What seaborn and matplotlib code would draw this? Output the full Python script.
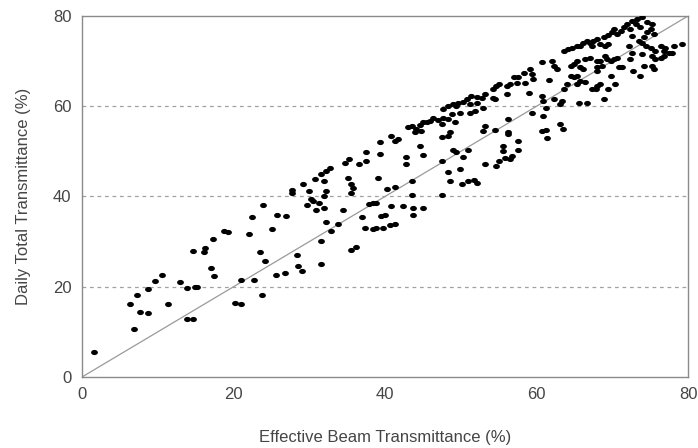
import matplotlib
matplotlib.use("Agg")
import matplotlib.pyplot as plt
import seaborn as sns
import pandas as pd
from matplotlib.ticker import MultipleLocator
from matplotlib.path import Path
import numpy as np

# Effective beam transmittance (%) and daily total transmittance (%)
beam = [
    1.6, 6.9, 6.4, 7.2, 7.7, 8.7, 8.7, 9.6, 10.6, 11.3, 12.9, 13.8, 14.9, 15.2, 13.9, 14.7, 14.7, 20.2, 21.0,
    31.6, 30.8, 29.2, 29.9, 27.7, 27.7, 30.2, 30.5, 29.7, 31.3, 30.9, 23.9, 22.4, 25.7, 26.9, 25.1, 22.1,
    18.8, 19.3, 17.3, 16.2, 16.1, 31.6, 35.5, 36.2, 23.5, 24.1, 28.4, 28.5, 29.1, 31.6, 17.0, 17.4, 25.6,
    26.8, 21.0, 22.7, 23.8, 32.2,
    46.4, 47.0, 45.5, 45.9, 44.6, 45.0, 43.5, 44.1, 44.8, 43.0, 43.9, 47.5, 47.5, 40.8, 41.7, 41.3, 39.3,
    39.3, 37.5, 44.6, 45.0, 37.5, 36.6, 35.3, 34.7, 42.8, 42.8, 47.5, 32.7, 32.2, 39.1, 35.1, 32.0, 35.5,
    35.8, 35.5, 41.3, 40.2, 43.5, 43.5, 47.5, 38.4, 38.8, 37.9, 40.8, 42.4, 43.7, 45.0, 34.4, 32.0, 39.5,
    40.0, 36.9, 43.7, 40.6, 41.3, 37.3, 38.4, 38.8, 39.7, 33.8, 32.9, 32.2, 32.0,
    60.7, 62.0, 62.3, 62.7, 59.2, 59.4, 58.3, 57.6, 57.0, 57.4, 56.5, 56.1, 58.5, 59.6, 54.7, 54.3, 55.0,
    61.6, 56.1, 59.0, 53.2, 52.8, 52.1, 51.4, 54.3, 54.5, 50.8, 50.3, 49.7, 49.0, 48.3, 47.7, 52.1, 51.2,
    53.0, 51.9, 51.2, 49.9, 49.4, 60.7, 60.9, 62.3, 63.4, 63.1, 61.2, 59.4, 60.9, 56.3, 48.8, 48.3, 49.2,
    47.7, 53.2, 53.0, 54.5, 56.3, 56.3, 60.7, 61.2, 61.4, 63.1, 63.5, 48.6, 48.3, 57.6, 55.6, 55.6, 55.8,
    56.7, 56.5, 57.6, 55.0, 54.7, 49.0, 49.4, 50.9, 50.3, 53.2, 48.3, 49.9, 48.6, 51.0, 51.7, 52.1, 50.1,
    73.9, 73.3, 72.6, 73.1, 74.6, 75.3, 72.0, 71.5, 71.1, 70.6, 70.0, 69.5, 70.2, 72.4, 73.7, 75.1, 74.6,
    72.6, 74.2, 75.5, 68.9, 68.0, 67.5, 67.1, 66.7, 66.2, 65.8, 65.3, 64.7, 64.2, 63.6, 67.3, 68.4, 69.1,
    69.5, 72.2, 73.9, 73.5, 74.4, 76.4, 77.0, 78.1, 79.2, 76.8, 75.7, 75.1, 77.5, 76.8, 77.9, 76.4, 75.7,
    75.3, 72.6, 73.9, 72.4, 70.6, 70.2, 69.8, 69.3, 68.4, 68.0, 69.1, 67.1, 66.4, 65.3, 64.9, 65.8, 64.5,
    74.2, 75.5, 75.3, 72.8, 73.7, 71.3, 70.9, 68.0, 68.7, 66.2, 69.8, 68.0, 65.3, 64.9, 64.5, 65.8, 66.4,
    65.3, 68.4, 68.0, 67.8, 67.3, 69.5, 70.4, 68.9, 65.6, 66.7, 64.0, 63.6,
]
total = [
    5.6, 10.7, 16.2, 18.2, 14.4, 14.2, 19.5, 21.2, 22.7, 16.2, 21.0, 19.8, 20.0, 19.9, 12.8, 12.8, 28.0, 16.4, 16.2,
    44.9, 43.8, 42.7, 41.2, 41.4, 40.8, 39.5, 39.0, 38.2, 38.6, 37.0, 38.1, 35.4, 35.8, 35.6, 32.7, 31.6,
    32.3, 32.2, 30.6, 28.6, 27.8, 30.1, 28.2, 28.8, 27.6, 25.8, 27.1, 24.7, 23.4, 25.1, 24.2, 22.4, 22.7,
    23.0, 21.6, 21.6, 18.2, 41.2,
    57.5, 57.0, 56.4, 56.7, 55.8, 56.4, 55.6, 54.9, 54.5, 55.3, 54.2, 56.0, 53.2, 53.4, 52.7, 52.3, 52.1,
    49.5, 49.8, 51.2, 49.3, 47.8, 47.1, 48.2, 47.5, 48.8, 47.1, 47.8, 46.4, 45.6, 44.2, 44.2, 43.4, 42.7,
    41.9, 40.8, 42.1, 41.7, 43.4, 40.4, 40.4, 38.6, 38.6, 38.4, 38.0, 38.0, 37.5, 37.5, 37.1, 37.5, 35.6,
    36.0, 35.5, 36.0, 33.6, 33.8, 33.0, 32.7, 33.0, 33.0, 33.8, 32.3, 34.3, 40.1,
    69.7, 70.1, 69.0, 68.2, 68.2, 67.1, 67.3, 66.4, 66.4, 65.1, 64.9, 64.5, 65.1, 66.0, 64.5, 63.8, 64.9,
    65.8, 62.7, 63.0, 62.7, 61.9, 62.1, 62.3, 61.9, 61.6, 61.6, 61.0, 60.8, 60.4, 60.1, 59.3, 60.8, 60.4,
    59.7, 59.0, 58.6, 58.6, 60.1, 62.3, 61.2, 61.6, 61.2, 60.4, 59.7, 58.6, 57.8, 57.1, 58.2, 57.1, 56.4,
    57.5, 55.6, 54.5, 54.7, 54.3, 53.8, 54.5, 54.7, 53.0, 56.0, 54.9, 54.2, 53.4, 52.3, 51.3, 50.1, 48.6,
    49.0, 48.2, 50.4, 47.8, 46.7, 50.4, 49.8, 50.4, 48.8, 47.3, 45.4, 46.0, 43.4, 43.4, 43.6, 43.0, 42.7,
    79.7, 79.3, 79.0, 78.2, 78.6, 78.2, 78.2, 77.5, 76.7, 76.0, 76.4, 75.8, 77.1, 77.1, 77.5, 77.1, 76.4,
    75.6, 75.3, 76.0, 75.3, 74.9, 74.5, 74.1, 74.5, 74.1, 73.4, 73.4, 73.0, 72.7, 72.3, 73.4, 73.8, 73.4,
    73.8, 73.4, 74.1, 74.5, 73.4, 73.4, 73.0, 73.4, 73.8, 72.3, 72.3, 73.0, 71.9, 71.2, 71.9, 70.8, 70.4,
    71.2, 71.9, 71.6, 70.4, 70.8, 70.4, 70.1, 70.4, 70.1, 70.1, 71.2, 70.8, 70.4, 70.1, 69.3, 68.6, 69.0,
    69.0, 68.2, 69.0, 67.8, 66.7, 68.6, 68.6, 68.6, 69.0, 68.2, 66.7, 67.8, 66.7, 66.4, 66.7, 65.6, 65.3,
    64.9, 64.9, 64.5, 63.8, 63.8, 63.8, 64.9, 61.6, 60.8, 60.8, 64.9, 63.8,
]

x_ticks = [0, 20, 40, 60, 80]
y_ticks = [0, 20, 40, 60, 80]
x_label = "Effective Beam Transmittance (%)"
y_label = "Daily Total Transmittance (%)"

df = pd.DataFrame({"beam": beam, "total": total})

sns.set_style("white")
plt.rcParams["font.family"] = ["Liberation Sans", "DejaVu Sans"]

fig = plt.figure(figsize=(6.98, 4.48), dpi=100)
ax = fig.add_axes([0.1175, 0.1585, 0.9857 - 0.1175, 0.9643 - 0.1585])

axis_grey = "#8a8a8a"
text_grey = "#454545"

# slightly wide, rounded marker like the original blobs
t = np.linspace(0, 2 * np.pi, 40)
ellipse = Path(np.column_stack([1.25 * np.cos(t), 0.95 * np.sin(t)]), closed=True)

# 1:1 reference line
ax.axline((0, 0), slope=1, color="#9a9a9a", lw=0.9, zorder=1)

sns.scatterplot(data=df, x="beam", y="total", color="black", s=24,
                linewidth=0, marker=ellipse, ax=ax, zorder=3)

ax.set_xlim(x_ticks[0], x_ticks[-1])
ax.set_ylim(y_ticks[0], y_ticks[-1])
ax.set_xticks(x_ticks)
ax.set_yticks(y_ticks)
ax.xaxis.set_minor_locator(MultipleLocator(10))
ax.yaxis.set_minor_locator(MultipleLocator(10))

for yv in y_ticks[1:-1]:
    ax.axhline(yv, color="#a0a0a0", lw=0.9, ls=(0, (3, 3)), zorder=0)

for sp in ax.spines.values():
    sp.set_visible(True)
    sp.set_color(axis_grey)
    sp.set_linewidth(1.0)

ax.tick_params(axis="both", which="both", direction="inout", color=axis_grey,
               width=0.9, labelsize=12, labelcolor=text_grey)
ax.tick_params(axis="both", which="major", length=7, pad=4)
ax.tick_params(axis="both", which="minor", length=5)

ax.set_xlabel(x_label, fontsize=12, color=text_grey, labelpad=20)
ax.set_ylabel(y_label, fontsize=12, color=text_grey, labelpad=16)

fig.savefig("out.png", dpi=100)
